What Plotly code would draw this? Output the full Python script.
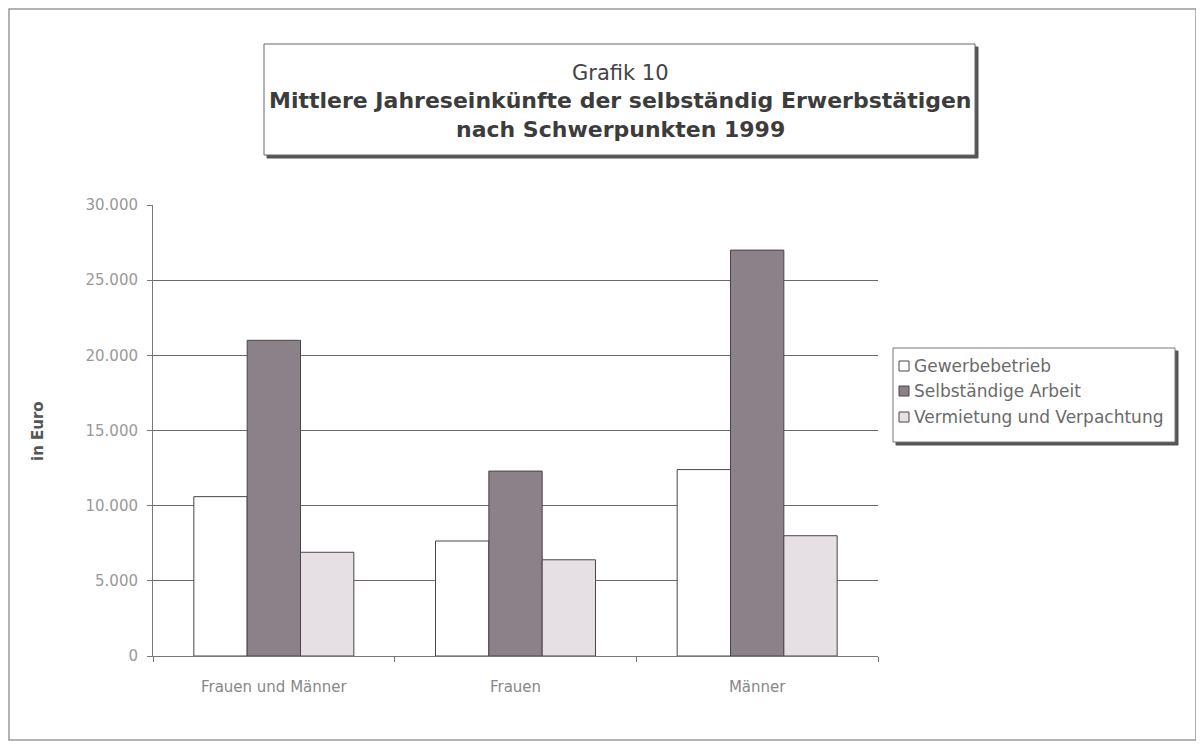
import plotly.graph_objects as go

categories = ["Frauen und Männer", "Frauen", "Männer"]
gewerbebetrieb = [10600, 7650, 12400]
selbstaendige_arbeit = [21000, 12300, 27000]
vermietung = [6900, 6400, 8000]
series_names = ["Gewerbebetrieb", "Selbständige Arbeit", "Vermietung und Verpachtung"]
tick_vals = [0, 5000, 10000, 15000, 20000, 25000, 30000]

# page body has an 8px margin; compensate so screen positions match
OFF = 8
W, H = 1204 - OFF, 749 - OFF
L, R, T, B = 153, 878, 205, 656   # plot area in screen pixels

def px(x):
    return (x - L) / (R - L)

def py(y):
    return (B - y) / (B - T)

FONT = "DejaVu Sans, Liberation Sans, Arial, sans-serif"
fill_colors = ["#ffffff", "#8b8189", "#e6e0e4"]
line_col = "#4a4448"

fig = go.Figure()
for name, vals, col in zip(series_names, [gewerbebetrieb, selbstaendige_arbeit, vermietung], fill_colors):
    fig.add_trace(go.Bar(
        x=categories, y=vals, name=name,
        marker=dict(color=col, line=dict(color=line_col, width=1)),
        showlegend=False,
    ))

shapes = []
shapes.append(dict(type="rect", xref="paper", yref="paper",
                   x0=px(9), x1=px(1196), y0=py(740), y1=py(9),
                   line=dict(color="#9a9a9a", width=1.5), layer="below"))
shapes.append(dict(type="rect", xref="paper", yref="paper",
                   x0=px(267), x1=px(978), y0=py(158), y1=py(47),
                   line=dict(color="#555", width=1), fillcolor="#555", layer="below"))
shapes.append(dict(type="rect", xref="paper", yref="paper",
                   x0=px(264), x1=px(975), y0=py(155), y1=py(44),
                   line=dict(color="#666", width=1), fillcolor="#ffffff", layer="below"))
shapes.append(dict(type="rect", xref="paper", yref="paper",
                   x0=px(896), x1=px(1178), y0=py(445), y1=py(351),
                   line=dict(color="#555", width=1), fillcolor="#555"))
shapes.append(dict(type="rect", xref="paper", yref="paper",
                   x0=px(893), x1=px(1175), y0=py(442), y1=py(348),
                   line=dict(color="#777", width=1), fillcolor="#ffffff"))

annotations = []
annotations.append(dict(xref="paper", yref="paper", x=px(620), y=py(73),
                        text="Grafik 10", showarrow=False, xanchor="center", yanchor="middle",
                        font=dict(family=FONT, size=21, color="#444")))
annotations.append(dict(xref="paper", yref="paper", x=px(620), y=py(101),
                        text="<b>Mittlere Jahreseinkünfte der selbständig Erwerbstätigen</b>",
                        showarrow=False, xanchor="center", yanchor="middle",
                        font=dict(family=FONT, size=22, color="#3c3c3c")))
annotations.append(dict(xref="paper", yref="paper", x=px(620), y=py(129),
                        text="<b>nach Schwerpunkten 1999</b>",
                        showarrow=False, xanchor="center", yanchor="middle",
                        font=dict(family=FONT, size=22, color="#3c3c3c")))
annotations.append(dict(xref="paper", yref="paper", x=px(38), y=py(431),
                        text="<b>in Euro</b>", textangle=-90, showarrow=False,
                        xanchor="center", yanchor="middle",
                        font=dict(family=FONT, size=15, color="#555")))
leg_y = [366, 391, 417]
for name, col, yy in zip(series_names, fill_colors, leg_y):
    shapes.append(dict(type="rect", xref="paper", yref="paper",
                       x0=px(899), x1=px(909), y0=py(yy + 5), y1=py(yy - 5),
                       line=dict(color=line_col, width=1), fillcolor=col))
    annotations.append(dict(xref="paper", yref="paper", x=px(912), y=py(yy),
                            text=name, showarrow=False, xanchor="left", yanchor="middle",
                            font=dict(family=FONT, size=17, color="#6a6a6a")))

fig.update_layout(
    width=W, height=H,
    margin=dict(l=L - OFF, r=W - (R - OFF), t=T - OFF, b=H - (B - OFF), pad=0),
    paper_bgcolor="white", plot_bgcolor="white",
    barmode="group", bargap=0.338, bargroupgap=0,
    separators=",.",
    shapes=shapes, annotations=annotations,
    showlegend=False,
    font=dict(family=FONT, color="#777"),
)
fig.update_xaxes(
    showline=True, linecolor="#777", linewidth=1,
    ticks="outside", tickson="boundaries", ticklen=5, tickcolor="#777",
    tickfont=dict(family=FONT, size=15, color="#888"),
    ticklabelstandoff=17,
    showgrid=False,
)
fig.update_yaxes(
    range=[0, 30000], tickvals=tick_vals, tickformat=",d",
    showline=True, linecolor="#777", linewidth=1,
    ticks="outside", ticklen=5, tickcolor="#777",
    tickfont=dict(family=FONT, size=15, color="#999"),
    ticklabelstandoff=6,
    showgrid=True, gridcolor="#6e686c", gridwidth=1,
    zeroline=False,
)

fig.write_html("out.html")
